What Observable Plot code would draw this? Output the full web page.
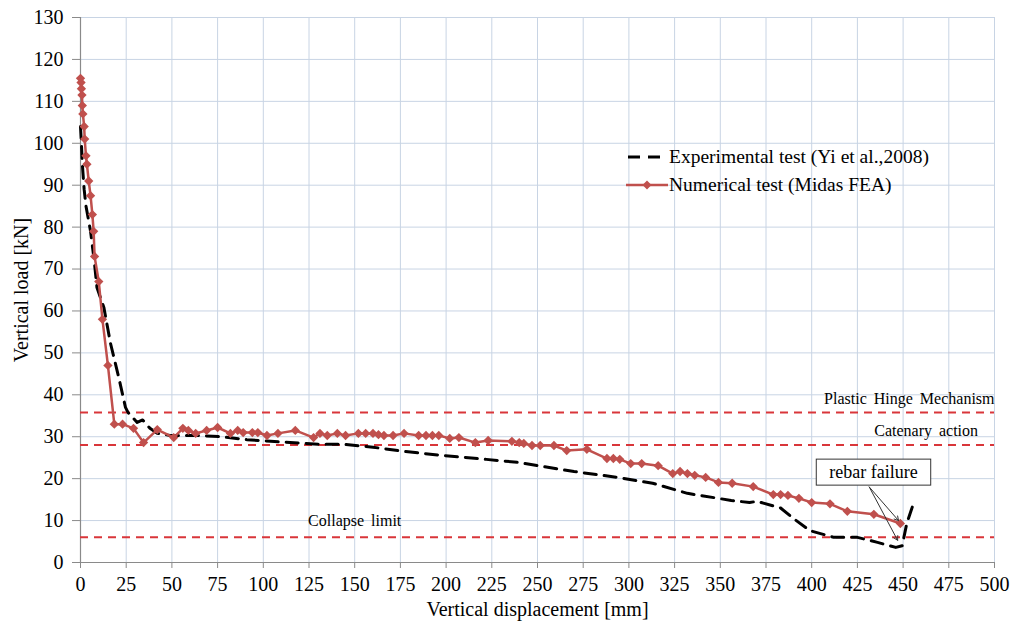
<!DOCTYPE html>
<html>
<head>
<meta charset="utf-8">
<script src="https://cdn.jsdelivr.net/npm/d3@7"></script>
<script src="https://cdn.jsdelivr.net/npm/@observablehq/plot@0.6"></script>
<style>
  html, body { margin: 0; padding: 0; background: #fff; }
  #wrap { position: relative; width: 1015px; height: 624px; font-family: "Liberation Serif", "Times New Roman", serif; }
  #legend { position: absolute; left: 626px; top: 143px; font-size: 19.5px; line-height: 28px; color: #000; }
  #legend .item { display: flex; align-items: center; white-space: nowrap; height: 28px; }
  #legend svg { margin-right: 1px; }
</style>
</head>
<body>
<div id="wrap"></div>
<script>
// ---- Data ----
const xTicks = [0, 25, 50, 75, 100, 125, 150, 175, 200, 225, 250, 275, 300, 325, 350, 375, 400, 425, 450, 475, 500];
const yTicks = [0, 10, 20, 30, 40, 50, 60, 70, 80, 90, 100, 110, 120, 130];

// Numerical test (Midas FEA)
const numX = [0, 0.3, 0.5, 0.8, 1, 1.3, 2, 2.3, 3, 3.5, 4.5, 5.5, 6.5, 7.2, 7.7, 10, 12, 15, 18.5, 23, 29, 34.5, 42, 51, 56, 59, 63, 69, 75, 82, 86, 89, 94, 97, 102, 108, 117.5, 127.5, 131, 135, 140.5, 145, 152, 156, 160, 163, 166, 171, 177, 185, 189, 192.5, 196, 202, 207, 216, 223, 236, 240, 242.5, 247, 251.5, 259, 266, 277, 288, 291.5, 295, 301, 307, 316, 324, 328, 332, 336, 342, 349, 356.5, 368, 379, 383, 387, 393, 400, 410, 419.5, 434, 448.5];
const numY = [115.5, 114.5, 113, 111.5, 109, 107, 104, 101, 97, 95, 91, 87.5, 83, 79, 73, 67, 58, 47, 33, 33, 32, 28.6, 31.7, 29.8, 32, 31.5, 30.8, 31.5, 32.2, 30.8, 31.5, 31, 31, 31, 30.3, 30.8, 31.5, 29.8, 30.8, 30.3, 30.8, 30.3, 30.8, 30.8, 30.8, 30.5, 30.3, 30.3, 30.8, 30.3, 30.3, 30.3, 30.3, 29.6, 29.8, 28.6, 29.1, 28.9, 28.6, 28.4, 27.9, 27.9, 27.9, 26.7, 27, 24.8, 24.8, 24.6, 23.6, 23.6, 23.1, 21.2, 21.7, 21.2, 20.8, 20.3, 19.1, 18.9, 18.1, 16.2, 16.2, 16, 15.3, 14.3, 14, 12.2, 11.5, 9.3];

// Experimental test (Yi et al., 2008)
const expX = [0, 0.5, 1, 2, 3, 5.5, 7.5, 9, 12.8, 16.4, 21, 24.6, 26, 31, 34, 38, 42, 49, 65, 77, 91, 104, 131, 144, 160, 177, 199, 222, 239, 270, 294, 313, 332, 356, 366, 370, 383, 390, 399, 412, 425, 436, 446, 449.5, 452, 456];
const expY = [104, 100, 95, 89, 85, 79, 72, 65.6, 60.8, 52.3, 44, 37, 35.8, 33.4, 34, 32, 30.8, 30.3, 30.3, 30, 29.3, 28.9, 28.2, 28.2, 27.5, 26.5, 25.5, 24.6, 23.9, 21.7, 20.3, 18.9, 16.5, 14.8, 14.3, 14.6, 13, 10.5, 7.6, 6, 6, 4.8, 3.6, 4, 9.3, 14.5];

// Reference levels
const refNames = ["Plastic Hinge Mechanism", "Catenary action", "Collapse limit"];
const refValues = [35.8, 28, 6];
const refLabelX = [500, 491, 150];

// Annotation
const noteText = ["rebar failure"];
const noteAt = [433.8, 21.5];
const arrowFrom = [431.5, 18];
const arrowTo = [[447.5, 10], [447, 5.3]];

const seriesNames = ["Experimental test (Yi et al.,2008)", "Numerical test (Midas FEA)"];

// ---- Build tables ----
const numerical = numX.map((x, i) => ({x, y: numY[i]}));
const experimental = expX.map((x, i) => ({x, y: expY[i]}));
const refs = refNames.map((name, i) => ({name, y: refValues[i], x: refLabelX[i]}));
const refsRight = refs.slice(0, 2);
const refsMid = refs.slice(2);
const arrows = arrowTo.map(([x2, y2]) => ({x1: arrowFrom[0], y1: arrowFrom[1], x2, y2}));
const note = [{text: noteText[0], x: noteAt[0], y: noteAt[1]}];

const RED = "#c0504d";
const REF = "#d9363a";

const chart = Plot.plot({
  width: 1015,
  height: 624,
  marginLeft: 80,
  marginRight: 21,
  marginTop: 17,
  marginBottom: 62,
  style: {fontFamily: "'Liberation Serif', 'Times New Roman', serif", fontSize: "20px", color: "#000", background: "#fff"},
  x: {domain: [0, 500]},
  y: {domain: [0, 130]},
  marks: [
    Plot.gridX(xTicks, {stroke: "#c8d4e4", strokeOpacity: 1, strokeWidth: 1}),
    Plot.gridY(yTicks, {stroke: "#c8d4e4", strokeOpacity: 1, strokeWidth: 1}),
    Plot.ruleX([0], {stroke: "#8a8a8a", strokeWidth: 1.2}),
    Plot.ruleY([0], {stroke: "#8a8a8a", strokeWidth: 1.2}),
    Plot.axisX(xTicks, {tickSize: 6, tickPadding: 8, stroke: "#8a8a8a", label: "Vertical displacement [mm]", labelAnchor: "center", labelArrow: "none", labelOffset: 53, fontSize: 20}),
    Plot.axisY(yTicks, {tickSize: 8, tickPadding: 9, stroke: "#8a8a8a", label: "Vertical load [kN]", labelAnchor: "center", labelArrow: "none", labelOffset: 67, fontSize: 20}),
    Plot.ruleY(refs, {y: "y", stroke: REF, strokeWidth: 2, strokeDasharray: "8,6"}),
    Plot.text(refsRight, {x: "x", y: "y", text: "name", textAnchor: "end", dy: -14, fontSize: 16, fill: "#000", className: "ref-label"}),
    Plot.text(refsMid, {x: "x", y: "y", text: "name", textAnchor: "middle", dy: -16, fontSize: 16, fill: "#000", className: "ref-label"}),
    Plot.line(experimental, {x: "x", y: "y", stroke: "#000", strokeWidth: 3, strokeDasharray: "12,8"}),
    Plot.line(numerical, {x: "x", y: "y", stroke: RED, strokeWidth: 2.5}),
    Plot.dot(numerical, {x: "x", y: "y", symbol: "diamond2", r: 4.2, fill: RED, stroke: "none"}),
    Plot.arrow(arrows, {x1: "x1", y1: "y1", x2: "x2", y2: "y2", stroke: "#333", strokeWidth: 1, headLength: 7}),
    Plot.text(note, {x: "x", y: "y", text: "text", fontSize: 18, fill: "#000", className: "note-text"})
  ]
});

document.getElementById("wrap").appendChild(chart);

const svg = chart.tagName.toLowerCase() === "svg" ? chart : chart.querySelector("svg");
// wider word spacing for reference-line labels
svg.querySelectorAll(".ref-label text").forEach(el => el.setAttribute("word-spacing", "3"));

// box around annotation text
const t = svg.querySelector(".note-text text");
if (t) {
  const bb = t.getBBox();
  const r = document.createElementNS("http://www.w3.org/2000/svg", "rect");
  r.setAttribute("x", bb.x - 13);
  r.setAttribute("y", bb.y - 3);
  r.setAttribute("width", bb.width + 26);
  r.setAttribute("height", bb.height + 6);
  r.setAttribute("fill", "#fff");
  r.setAttribute("stroke", "#333");
  r.setAttribute("stroke-width", "1");
  const tr = t.getAttribute("transform");
  if (tr) r.setAttribute("transform", tr);
  t.parentNode.insertBefore(r, t);
}

// Legend
const legend = document.createElement("div");
legend.id = "legend";
legend.innerHTML = `
  <div class="item"><svg width="42" height="12"><line x1="2" y1="6" x2="42" y2="6" stroke="#000" stroke-width="3" stroke-dasharray="12,8"/></svg><span>${seriesNames[0]}</span></div>
  <div class="item"><svg width="42" height="12"><line x1="0" y1="6" x2="42" y2="6" stroke="${RED}" stroke-width="2.5"/><path d="M21,1.5 L25.5,6 L21,10.5 L16.5,6 Z" fill="${RED}"/></svg><span>${seriesNames[1]}</span></div>`;
document.getElementById("wrap").appendChild(legend);
</script>
</body>
</html>
